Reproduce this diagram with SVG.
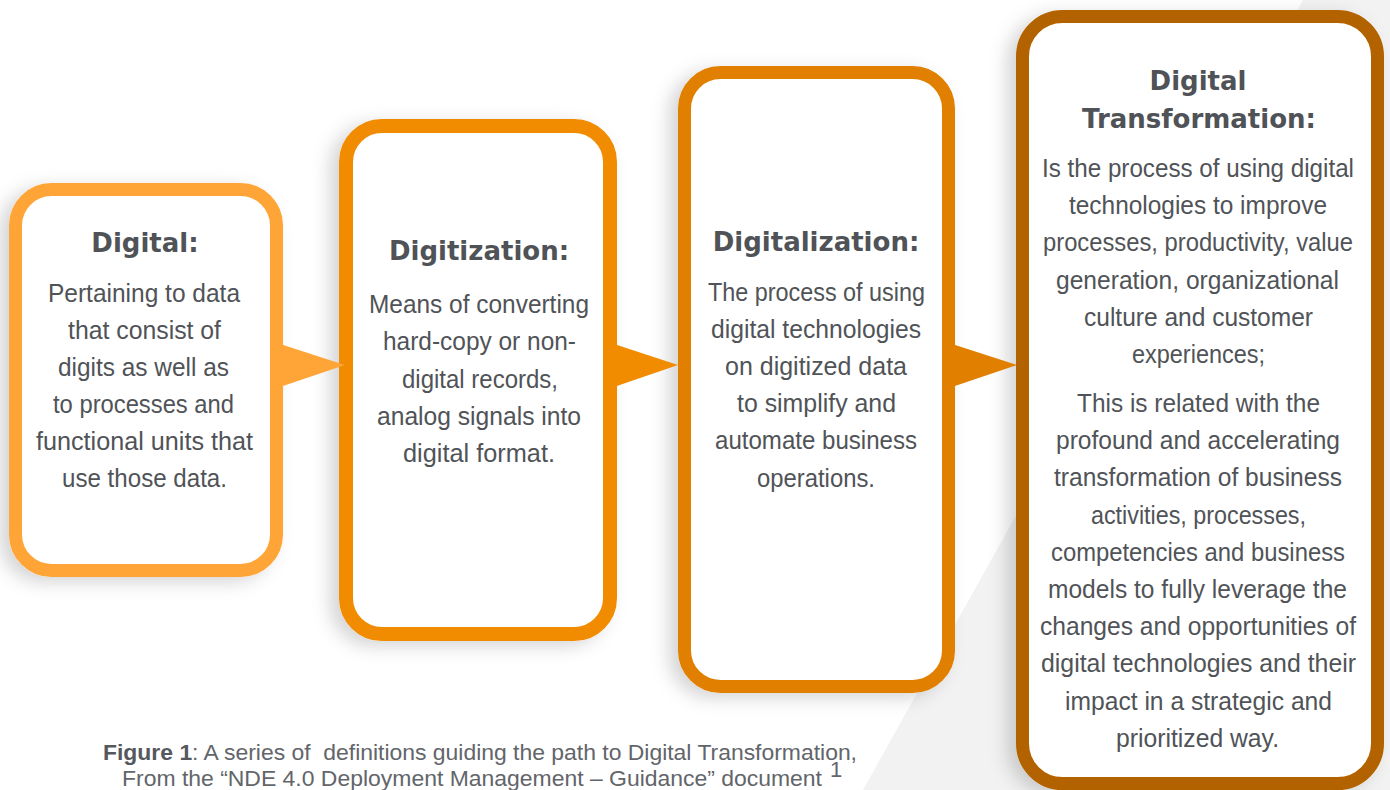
<svg xmlns="http://www.w3.org/2000/svg" width="1390" height="790" viewBox="0 0 1390 790">
<style>
.title{font-family:"DejaVu Sans",sans-serif;font-weight:bold;font-size:26px;fill:#4F5256;text-anchor:middle}
.body{font-family:"Liberation Sans",Arial,sans-serif;font-size:26px;fill:#505357}
.box{fill:#FFFFFF}
.cap{font-family:"Liberation Sans",Arial,sans-serif;font-size:22px;fill:#62656A;white-space:pre}
</style>
<defs>
<filter id="sh" x="-20%" y="-10%" width="140%" height="125%">
<feDropShadow dx="-9" dy="5" stdDeviation="9" flood-color="#000000" flood-opacity="0.17"/>
</filter>
</defs>
<rect x="0" y="0" width="1390" height="790" fill="#FFFFFF"/>
<polygon points="1303,0 1390,0 1390,790 863,790" fill="#F2F2F2"/>

<g id="node-digital">
<rect class="box" x="15.5" y="189.5" width="261" height="381" rx="36" stroke="#FFA537" stroke-width="13" filter="url(#sh)"/>
<text class="title" x="145" y="252">Digital:</text>
<text class="body" lengthAdjust="spacingAndGlyphs" x="48" y="302" textLength="192">Pertaining to data</text>
<text class="body" lengthAdjust="spacingAndGlyphs" x="68" y="339" textLength="153">that consist of</text>
<text class="body" lengthAdjust="spacingAndGlyphs" x="58" y="376" textLength="171">digits as well as</text>
<text class="body" lengthAdjust="spacingAndGlyphs" x="53" y="413" textLength="181">to processes and</text>
<text class="body" lengthAdjust="spacingAndGlyphs" x="36" y="450" textLength="217">functional units that</text>
<text class="body" lengthAdjust="spacingAndGlyphs" x="62" y="487" textLength="165">use those data.</text>
</g>

<g id="node-digitization">
<rect class="box" x="346" y="126" width="264" height="508" rx="36" stroke="#F18B00" stroke-width="14" filter="url(#sh)"/>
<text class="title" x="479" y="260">Digitization:</text>
<text class="body" lengthAdjust="spacingAndGlyphs" x="369" y="313" textLength="220">Means of converting</text>
<text class="body" lengthAdjust="spacingAndGlyphs" x="383" y="350" textLength="193">hard-copy or non-</text>
<text class="body" lengthAdjust="spacingAndGlyphs" x="402" y="388" textLength="156">digital records,</text>
<text class="body" lengthAdjust="spacingAndGlyphs" x="377" y="425" textLength="204">analog signals into</text>
<text class="body" lengthAdjust="spacingAndGlyphs" x="403" y="462" textLength="152">digital format.</text>
</g>

<g id="node-digitalization">
<rect class="box" x="684.5" y="72.5" width="264" height="614" rx="36" stroke="#E07F00" stroke-width="13" filter="url(#sh)"/>
<text class="title" x="816" y="251">Digitalization:</text>
<text class="body" lengthAdjust="spacingAndGlyphs" x="708" y="301" textLength="217">The process of using</text>
<text class="body" lengthAdjust="spacingAndGlyphs" x="711" y="338" textLength="210">digital technologies</text>
<text class="body" lengthAdjust="spacingAndGlyphs" x="725" y="375" textLength="182">on digitized data</text>
<text class="body" lengthAdjust="spacingAndGlyphs" x="737" y="412" textLength="159">to simplify and</text>
<text class="body" lengthAdjust="spacingAndGlyphs" x="715" y="449" textLength="202">automate business</text>
<text class="body" lengthAdjust="spacingAndGlyphs" x="757" y="487" textLength="118">operations.</text>
</g>

<g id="node-digital-transformation">
<rect class="box" x="1022.5" y="16.5" width="355" height="767" rx="40" stroke="#B26300" stroke-width="13" filter="url(#sh)"/>
<text class="title" x="1198" y="90">Digital</text>
<text class="title" x="1199" y="128">Transformation:</text>
<text class="body" lengthAdjust="spacingAndGlyphs" x="1042" y="177" textLength="312">Is the process of using digital</text>
<text class="body" lengthAdjust="spacingAndGlyphs" x="1069" y="214" textLength="258">technologies to improve</text>
<text class="body" lengthAdjust="spacingAndGlyphs" x="1043" y="251" textLength="310">processes, productivity, value</text>
<text class="body" lengthAdjust="spacingAndGlyphs" x="1056" y="289" textLength="283">generation, organizational</text>
<text class="body" lengthAdjust="spacingAndGlyphs" x="1084" y="326" textLength="229">culture and customer</text>
<text class="body" lengthAdjust="spacingAndGlyphs" x="1132" y="363" textLength="133">experiences;</text>
<text class="body" lengthAdjust="spacingAndGlyphs" x="1077" y="412" textLength="243">This is related with the</text>
<text class="body" lengthAdjust="spacingAndGlyphs" x="1056" y="449" textLength="284">profound and accelerating</text>
<text class="body" lengthAdjust="spacingAndGlyphs" x="1054" y="486" textLength="288">transformation of business</text>
<text class="body" lengthAdjust="spacingAndGlyphs" x="1091" y="524" textLength="215">activities, processes,</text>
<text class="body" lengthAdjust="spacingAndGlyphs" x="1051" y="561" textLength="294">competencies and business</text>
<text class="body" lengthAdjust="spacingAndGlyphs" x="1048" y="598" textLength="299">models to fully leverage the</text>
<text class="body" lengthAdjust="spacingAndGlyphs" x="1040" y="635" textLength="316">changes and opportunities of</text>
<text class="body" lengthAdjust="spacingAndGlyphs" x="1041" y="672" textLength="315">digital technologies and their</text>
<text class="body" lengthAdjust="spacingAndGlyphs" x="1065" y="710" textLength="267">impact in a strategic and</text>
<text class="body" lengthAdjust="spacingAndGlyphs" x="1116" y="747" textLength="163">prioritized way.</text>
</g>

<g id="connectors">
<polygon points="277,343 345,365 277,388" fill="#FFA537"/>
<polygon points="611,343 678,365 611,388" fill="#F18B00"/>
<polygon points="949,343 1017,365 949,388" fill="#E07F00"/>
</g>

<g id="caption">
<text class="cap" x="103" y="760" textLength="754" lengthAdjust="spacingAndGlyphs"><tspan font-weight="bold" fill="#55585C">Figure 1</tspan>: A series of  definitions guiding the path to Digital Transformation,</text>
<text class="cap" x="122" y="786" font-size="21" textLength="700" lengthAdjust="spacingAndGlyphs">From the “NDE 4.0 Deployment Management – Guidance” document</text>
<text class="cap" x="830" y="777" font-size="13">1</text>
</g>
</svg>
